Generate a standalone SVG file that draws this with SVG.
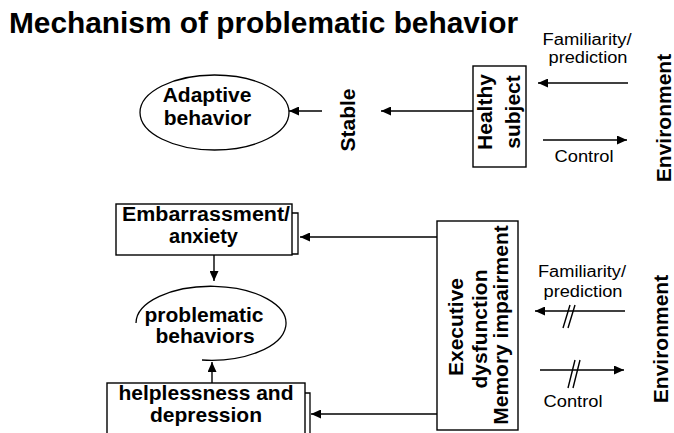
<svg xmlns="http://www.w3.org/2000/svg" width="674" height="433" viewBox="0 0 674 433">
<style>
.bg{fill:#fff}
.box{fill:#fff;stroke:#000;stroke-width:1.4}
.ol{fill:none;stroke:#000;stroke-width:1.3}
.b{font-family:"Liberation Sans",Arial,sans-serif;font-weight:bold;font-size:21px;fill:#000;text-anchor:middle}
.b20{font-size:20px}
.r{font-family:"Liberation Sans",Arial,sans-serif;font-size:16px;fill:#000;text-anchor:middle}
.t{font-family:"Liberation Sans",Arial,sans-serif;font-weight:bold;font-size:29px;fill:#000}
.ln{fill:none;stroke:#000;stroke-width:1.4}
.arr{marker-end:url(#ah)}
</style>
<defs>
<marker id="ah" markerUnits="userSpaceOnUse" markerWidth="10" markerHeight="9" refX="10" refY="4.5" orient="auto">
<path d="M0,0 L10,4.5 L0,9 z" fill="#000"/>
</marker>
</defs>
<rect class="bg" x="0" y="0" width="674" height="433"/>
<text id="title" class="t" x="9" y="33" textLength="509" lengthAdjust="spacingAndGlyphs">Mechanism of problematic behavior</text>

<g id="adaptive">
<ellipse class="ol" cx="214.5" cy="112.5" rx="74.5" ry="37.5"/>
<text class="b" x="207" y="102">Adaptive</text>
<text class="b" x="207.5" y="125">behavior</text>
</g>
<g id="stable">
<text class="b" transform="translate(355,120) rotate(-90)">Stable</text>
</g>
<g id="healthy">
<rect class="box" x="473" y="66" width="53" height="101"/>
<text class="b" transform="translate(492,112) rotate(-90)">Healthy</text>
<text class="b" transform="translate(520,112) rotate(-90)">subject</text>
</g>
<g id="env-top">
<text class="b" transform="translate(671,118) rotate(-90)">Environment</text>
</g>
<g id="lbl-top">
<text class="r" x="587" y="45" textLength="89" lengthAdjust="spacingAndGlyphs">Familiarity/</text>
<text class="r" x="588" y="63" textLength="79" lengthAdjust="spacingAndGlyphs">prediction</text>
<text class="r" x="584" y="162" textLength="59" lengthAdjust="spacingAndGlyphs">Control</text>
</g>

<g id="embarrassment">
<rect class="box" x="116" y="204" width="176" height="51"/>
<path class="ol" d="M292,213 H298 V254 H292"/>
<text class="b b20" x="206" y="221" textLength="168" lengthAdjust="spacingAndGlyphs">Embarrassment/</text>
<text class="b b20" x="203.5" y="243">anxiety</text>
</g>
<g id="problematic">
<path class="ol" d="M136,323 A75,37 0 1 1 202,360"/>
<text class="b" x="204" y="322">problematic</text>
<text class="b" x="205" y="343">behaviors</text>
</g>
<g id="helplessness">
<rect class="box" x="107" y="383" width="198" height="60"/>
<path class="ol" d="M305,393 H310 V440"/>
<text class="b" x="206" y="400">helplessness and</text>
<text class="b" x="206" y="422">depression</text>
</g>
<g id="executive">
<rect class="box" x="437" y="221" width="81" height="209"/>
<text class="b" transform="translate(463,327) rotate(-90)">Executive</text>
<text class="b" transform="translate(487,329) rotate(-90)">dysfunction</text>
<text class="b" transform="translate(508,325) rotate(-90)">Memory impairment</text>
</g>
<g id="env-bottom">
<text class="b" transform="translate(668,339) rotate(-90)">Environment</text>
</g>
<g id="lbl-bottom">
<text class="r" x="582" y="277" textLength="88" lengthAdjust="spacingAndGlyphs">Familiarity/</text>
<text class="r" x="583" y="297" textLength="79" lengthAdjust="spacingAndGlyphs">prediction</text>
<text class="r" x="573" y="407" textLength="59" lengthAdjust="spacingAndGlyphs">Control</text>
</g>

<g id="connectors">
<line class="ln arr" x1="473" y1="111" x2="381" y2="111"/>
<line class="ln arr" x1="322" y1="111" x2="289" y2="111"/>
<line class="ln arr" x1="628" y1="83" x2="538" y2="83"/>
<line class="ln arr" x1="543" y1="140" x2="627" y2="140"/>
<line class="ln arr" x1="437" y1="237" x2="300" y2="237"/>
<line class="ln arr" x1="437" y1="414" x2="311" y2="414"/>
<line class="ln arr" x1="214" y1="255" x2="214" y2="281"/>
<line class="ln arr" x1="212" y1="383" x2="212" y2="362"/>
<line class="ln arr" x1="625" y1="311" x2="535" y2="311"/>
<line class="ln arr" x1="540" y1="370" x2="624" y2="370"/>
<path class="ln" d="M563,328 L570,305 M568,328 L575,305"/>
<path class="ln" d="M568,388 L575,360 M573,388 L580,360"/>
</g>
</svg>
